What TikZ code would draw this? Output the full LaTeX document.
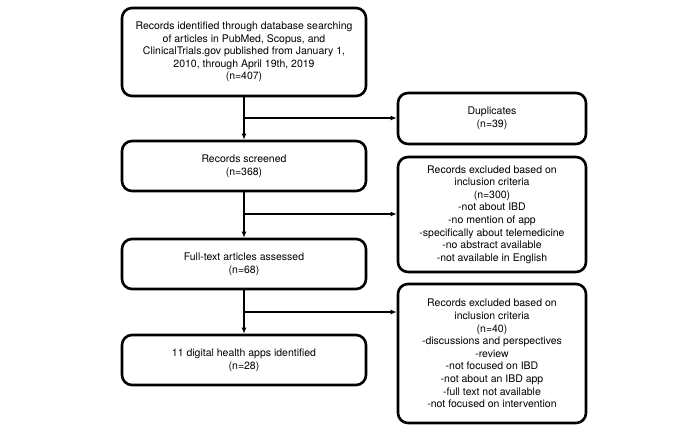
\documentclass[tikz,border=0pt]{standalone}
\usepackage{fontspec}
\setmainfont{TeX Gyre Heros}
\usetikzlibrary{arrows.meta}
\begin{document}
\begin{tikzpicture}[x=1pt,y=-1pt,
  box/.style={draw=black, line width=2.6pt, rounded corners=10pt, align=center,
    font=\fontsize{10.5}{12.6}\selectfont, inner sep=2pt},
  lbox/.style={box, minimum width=244pt},
  rbox/.style={box, minimum width=188pt},
  conn/.style={line width=1.2pt, -{Latex[length=6pt,width=5pt]}}]
\useasboundingbox (0,0) rectangle (693,432);
\node[lbox, minimum height=88pt] (b1) at (244,52) {Records identified through database searching\\of articles in PubMed, Scopus, and\\ClinicalTrials.gov published from January 1,\\2010, through April 19th, 2019\\(n=407)};
\node[lbox, minimum height=50pt] (b2) at (244,166) {Records screened\\(n=368)};
\node[lbox, minimum height=50pt] (b3) at (244,264) {Full-text articles assessed\\(n=68)};
\node[lbox, minimum height=50pt] (b4) at (244,360) {11 digital health apps identified\\(n=28)};
\node[rbox, minimum height=51pt] (r1) at (492,118.5) {Duplicates\\(n=39)};
\node[rbox, minimum height=115pt] (r2) at (492,214.5) {Records excluded based on\\inclusion criteria\\(n=300)\\-not about IBD\\-no mention of app\\-specifically about telemedicine\\-no abstract available\\-not available in English};
\node[rbox, minimum height=139pt] (r3) at (492,353.5) {Records excluded based on\\inclusion criteria\\(n=40)\\-discussions and perspectives\\-review\\-not focused on IBD\\-not about an IBD app\\-full text not available\\-not focused on intervention};
\coordinate (c1) at (244,118);
\coordinate (c2) at (244,214);
\coordinate (c3) at (244,312);
\draw[conn] (b1.south) -- (b2.north);
\draw[conn] (b2.south) -- (b3.north);
\draw[conn] (b3.south) -- (b4.north);
\draw[conn] (c1) -- (c1 -| r1.west);
\draw[conn] (c2) -- (c2 -| r2.west);
\draw[conn] (c3) -- (c3 -| r3.west);
\end{tikzpicture}
\end{document}
